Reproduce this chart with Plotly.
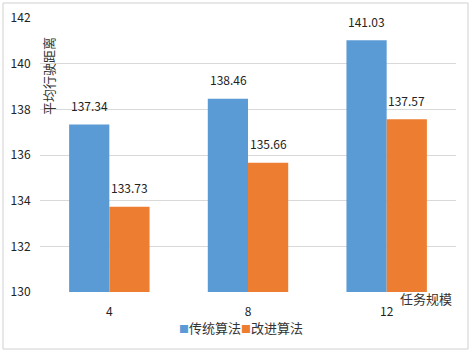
import plotly.graph_objects as go

categories = ["4", "8", "12"]
traditional = [137.34, 138.46, 141.03]
improved = [133.73, 135.66, 137.57]
series_names = ["传统算法", "改进算法"]
colors = ["#5B9BD5", "#ED7D31"]

W, H = 472, 353
L, R, T, B = 40, 16, 18, 61
pw, ph = W - L - R, H - T - B

font = "Noto Sans CJK SC, Liberation Sans, sans-serif"

fig = go.Figure()
for name, vals, col in zip(series_names, [traditional, improved], colors):
    fig.add_trace(go.Bar(
        x=categories, y=vals, name=name,
        marker=dict(color=col, line=dict(width=0)),
        offsetgroup=name,
    ))

def px_x(p):
    return (p - L) / pw

def px_y(p):
    return 1 - (p - T) / ph

annotations = []
for si, vals in enumerate([traditional, improved]):
    for ci, v in enumerate(vals):
        annotations.append(dict(
            x=ci, y=v, xref="x", yref="y", text=f"{v:.2f}", showarrow=False,
            xshift=(-20 if si == 0 else 20), yshift=19, xanchor="center", yanchor="middle",
            font=dict(size=12, color="#222"),
        ))

annotations += [
    dict(text="平均行驶距离", xref="paper", yref="paper", x=px_x(48), y=px_y(76),
         xanchor="center", yanchor="middle",
         textangle=-90, showarrow=False, font=dict(size=13, color="#333")),
    dict(text="任务规模", xref="paper", yref="paper", x=px_x(454), y=px_y(298),
         xanchor="right", yanchor="middle", showarrow=False,
         font=dict(size=13, color="#333")),
    dict(text=f'<span style="color:{colors[0]};font-size:10px">■</span>{series_names[0]}'
              f'<span style="color:{colors[1]};font-size:10px">■</span>{series_names[1]}',
         xref="paper", yref="paper", x=px_x(241), y=px_y(327),
         xanchor="center", yanchor="middle", showarrow=False,
         font=dict(size=13, color="#333")),
]

fig.update_layout(
    width=W, height=H,
    margin=dict(l=L, r=R, t=T, b=B),
    paper_bgcolor="white", plot_bgcolor="white",
    barmode="group", bargap=0.42, bargroupgap=0,
    font=dict(family=font, size=12, color="#222"),
    xaxis=dict(showgrid=False, showline=False, ticks="outside", ticklen=9,
               tickcolor="rgba(0,0,0,0)", tickfont=dict(size=12), automargin=False),
    yaxis=dict(range=[130, 142], dtick=2, showgrid=True, gridcolor="#D9D9D9",
               gridwidth=1, zeroline=False, showline=False, ticks="outside",
               ticklen=6, tickcolor="rgba(0,0,0,0)",
               tickfont=dict(size=12), tickformat="d", automargin=False),
    showlegend=False,
    annotations=annotations,
    shapes=[
        dict(type="rect", xref="paper", yref="paper",
             x0=px_x(3), x1=px_x(468), y0=px_y(349), y1=px_y(3),
             line=dict(color="#D0D0D0", width=1), fillcolor="rgba(0,0,0,0)", layer="below"),
    ],
)

fig.write_html("out.html", config={"displayModeBar": False},
               post_script="document.body.style.margin='0';document.body.style.overflow='hidden';")
